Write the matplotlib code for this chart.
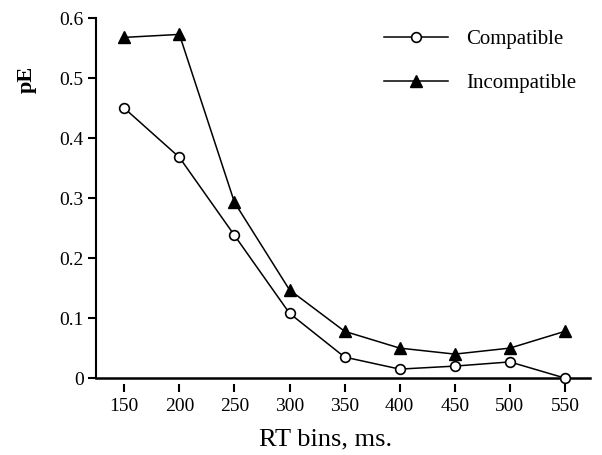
import numpy as np
import matplotlib.pyplot as plt

plt.rcParams['font.family'] = ['Liberation Serif', 'DejaVu Serif']

# RT bins (ms) and proportion of errors
rt_bins = [150, 200, 250, 300, 350, 400, 450, 500, 550]
compatible = [0.45, 0.368, 0.238, 0.108, 0.035, 0.015, 0.02, 0.027, 0.0]
incompatible = [0.568, 0.573, 0.293, 0.147, 0.078, 0.05, 0.04, 0.05, 0.078]
y_ticks = [0, 0.1, 0.2, 0.3, 0.4, 0.5, 0.6]
y_tick_labels = ["0", "0.1", "0.2", "0.3", "0.4", "0.5", "0.6"]

fig = plt.figure(figsize=(6.02, 4.55), dpi=100)
ax = fig.add_axes([0.16, 0.169, 0.82, 0.791])

# spine position first: it resets the tick objects
for s in ["top", "right"]:
    ax.spines[s].set_visible(False)
ax.spines["left"].set_linewidth(1.5)
ax.spines["bottom"].set_position(("outward", 4))
ax.spines["bottom"].set_visible(False)

ax.plot(rt_bins, compatible, color="black", linewidth=1.1, marker="o",
        markersize=7, markerfacecolor="white", markeredgecolor="black",
        markeredgewidth=1.2, label="Compatible", clip_on=False, zorder=3)
ax.plot(rt_bins, incompatible, color="black", linewidth=1.1, marker="^",
        markersize=8.5, markerfacecolor="black", markeredgecolor="black",
        label="Incompatible", clip_on=False, zorder=3)
ax.axhline(0, color="black", linewidth=1.8, clip_on=False, zorder=2)

ax.set_xlim(124.6, 572.7)
ax.set_ylim(0, 0.6)
ax.set_xticks(rt_bins)
ax.set_xticklabels([str(v) for v in rt_bins])
ax.set_yticks(y_ticks)
ax.set_yticklabels(y_tick_labels)

ax.tick_params(axis="y", direction="out", length=6, width=1.5, pad=3, labelsize=14)
ax.tick_params(axis="x", direction="out", length=6, width=1.5, pad=4, labelsize=14)

ax.set_xlabel("RT bins, ms.", fontsize=19)
ax.xaxis.set_label_coords(0.464, -0.14)
ax.set_ylabel("pE", fontsize=16, fontweight="bold")
ax.yaxis.set_label_coords(-0.12, 0.83)

ax.legend(loc="upper right", frameon=False, fontsize=15, handlelength=3.1,
          handletextpad=0.85, labelspacing=1.15, bbox_to_anchor=(1.01, 1.02))

fig.savefig("out.png", dpi=100)
